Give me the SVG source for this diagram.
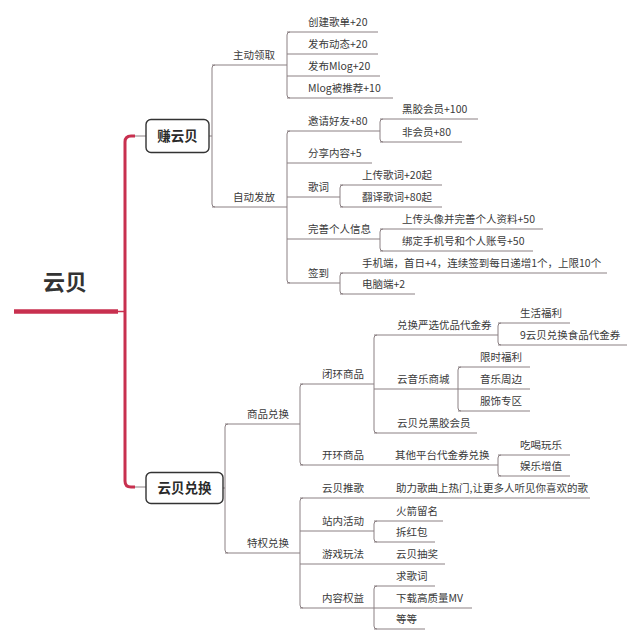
<svg xmlns="http://www.w3.org/2000/svg" width="640" height="642" viewBox="0 0 640 642">
<style>
.t{font-family:"Noto Sans CJK SC","Noto Sans",sans-serif;font-size:10.5px;fill:#3a3a3a}
.b{font-family:"Noto Sans CJK SC","Noto Sans",sans-serif;font-size:13.5px;font-weight:bold;fill:#2a2a2a;text-anchor:middle}
.r{font-family:"Noto Sans CJK SC","Noto Sans",sans-serif;font-size:22px;font-weight:bold;fill:#333}
.box{fill:#fff;stroke:#333;stroke-width:1.4}
.c{fill:none;stroke:#8b8083;stroke-width:1}
.red{fill:none;stroke:#c8304f;stroke-linecap:butt}
</style>
<rect width="640" height="642" fill="#fff"/>
<g id="connectors">
<path class="red" d="M14 311.5H118" stroke-width="4.5"/>
<path class="red" d="M118 311.5H125" stroke-width="1.5"/>
<path class="red" d="M135 136H131Q125 136 125 142V481Q125 487 131 487H135" stroke-width="3"/>
<path class="c" d="M135 136H146M135 487H146"/>
<!-- 赚云贝 -->
<path class="c" d="M209 136H212M215 65Q212 65 212 68V204Q212 207 215 207M212 65H287M212 207H287"/>
<!-- 主动领取 -->
<path class="c" d="M290 32Q287 32 287 35V95Q287 98 290 98M287 32H378M287 54H378M287 76H380M287 98H393"/>
<!-- 自动发放 -->
<path class="c" d="M290 131Q287 131 287 134V280Q287 283 290 283M287 131H380M287 163H372M287 197H340M287 239H380M287 283H340"/>
<path class="c" d="M383 119Q380 119 380 122V139Q380 142 383 142M380 119H478M380 142H462"/>
<path class="c" d="M343 185Q340 185 340 188V204Q340 207 343 207M340 185H442M340 207H442"/>
<path class="c" d="M383 229Q380 229 380 232V248Q380 251 383 251M380 229H543M380 251H533"/>
<path class="c" d="M343 273Q340 273 340 276V291Q340 294 343 294M340 273H607M340 294H415"/>
<!-- 云贝兑换 -->
<path class="c" d="M223 488H225M228 424Q225 424 225 427V550Q225 553 228 553M225 424H300M225 553H300"/>
<path class="c" d="M303 384Q300 384 300 387V462Q300 465 303 465M300 384H374M300 465H498"/>
<path class="c" d="M377 335Q374 335 374 338V430Q374 433 377 433M374 335H498M374 389H458M374 433H477"/>
<path class="c" d="M501 323Q498 323 498 326V342Q498 345 501 345M498 323H570M498 345H627"/>
<path class="c" d="M461 367Q458 367 458 370V408Q458 411 461 411M458 367H530M458 389H530M458 411H530"/>
<path class="c" d="M501 455Q498 455 498 458V473Q498 476 501 476M498 455H570M498 476H570"/>
<path class="c" d="M303 498Q300 498 300 501V605Q300 608 303 608M300 498H590M300 531H374M300 564H445M300 608H472"/>
<path class="c" d="M377 521Q374 521 374 524V539Q374 542 377 542M374 521H443M374 542H435"/>
<path class="c" d="M377 586Q374 586 374 589V626Q374 629 377 629M374 586H435M374 629H425"/>
</g>
<g id="root"><text class="r" x="43" y="290">云贝</text></g>
<g id="n-zhuan"><rect class="box" x="146" y="119.5" width="63" height="33" rx="5"/><text class="b" x="177.5" y="141">赚云贝</text></g>
<g id="n-duihuan"><rect class="box" x="146" y="472.5" width="77" height="31" rx="5"/><text class="b" x="184.5" y="493">云贝兑换</text></g>
<g id="n-zhudong"><text class="t" x="233" y="59">主动领取</text></g>
<g id="n-gedan"><text class="t" x="308" y="26">创建歌单+20</text></g>
<g id="n-dongtai"><text class="t" x="308" y="48">发布动态+20</text></g>
<g id="n-mlog"><text class="t" x="308" y="70">发布Mlog+20</text></g>
<g id="n-mlogtj"><text class="t" x="308" y="92">Mlog被推荐+10</text></g>
<g id="n-zidong"><text class="t" x="233" y="201">自动发放</text></g>
<g id="n-yaoqing"><text class="t" x="308" y="125">邀请好友+80</text></g>
<g id="n-heijiao"><text class="t" x="402" y="113">黑胶会员+100</text></g>
<g id="n-feihuiyuan"><text class="t" x="402" y="136">非会员+80</text></g>
<g id="n-fenxiang"><text class="t" x="308" y="157">分享内容+5</text></g>
<g id="n-geci"><text class="t" x="308" y="191">歌词</text></g>
<g id="n-scgc"><text class="t" x="362" y="179">上传歌词+20起</text></g>
<g id="n-fygc"><text class="t" x="362" y="201">翻译歌词+80起</text></g>
<g id="n-wanshan"><text class="t" x="308" y="233">完善个人信息</text></g>
<g id="n-touxiang"><text class="t" x="402" y="223">上传头像并完善个人资料+50</text></g>
<g id="n-bangding"><text class="t" x="402" y="245">绑定手机号和个人账号+50</text></g>
<g id="n-qiandao"><text class="t" x="308" y="277">签到</text></g>
<g id="n-shouji"><text class="t" x="362" y="267">手机端，首日+4，连续签到每日递增1个，上限10个</text></g>
<g id="n-diannao"><text class="t" x="362" y="288">电脑端+2</text></g>
<g id="n-shangpin"><text class="t" x="247" y="418">商品兑换</text></g>
<g id="n-bihuan"><text class="t" x="322" y="378">闭环商品</text></g>
<g id="n-yanxuan"><text class="t" x="397" y="329">兑换严选优品代金券</text></g>
<g id="n-shenghuo"><text class="t" x="520" y="317">生活福利</text></g>
<g id="n-shipin"><text class="t" x="520" y="339">9云贝兑换食品代金券</text></g>
<g id="n-shangcheng"><text class="t" x="397" y="383">云音乐商城</text></g>
<g id="n-xianshi"><text class="t" x="480" y="361">限时福利</text></g>
<g id="n-zhoubian"><text class="t" x="480" y="383">音乐周边</text></g>
<g id="n-fushi"><text class="t" x="480" y="405">服饰专区</text></g>
<g id="n-heijiaohy"><text class="t" x="397" y="427">云贝兑黑胶会员</text></g>
<g id="n-kaihuan"><text class="t" x="322" y="459">开环商品</text></g>
<g id="n-qita"><text class="t" x="395" y="459">其他平台代金券兑换</text></g>
<g id="n-chihe"><text class="t" x="520" y="449">吃喝玩乐</text></g>
<g id="n-yule"><text class="t" x="520" y="470">娱乐增值</text></g>
<g id="n-tequan"><text class="t" x="247" y="547">特权兑换</text></g>
<g id="n-tuige"><text class="t" x="322" y="492">云贝推歌</text></g>
<g id="n-zhuli"><text class="t" x="396" y="492">助力歌曲上热门,让更多人听见你喜欢的歌</text></g>
<g id="n-zhannei"><text class="t" x="322" y="525">站内活动</text></g>
<g id="n-huojian"><text class="t" x="396" y="515">火箭留名</text></g>
<g id="n-chai"><text class="t" x="396" y="536">拆红包</text></g>
<g id="n-youxi"><text class="t" x="322" y="558">游戏玩法</text></g>
<g id="n-choujiang"><text class="t" x="396" y="558">云贝抽奖</text></g>
<g id="n-neirong"><text class="t" x="322" y="602">内容权益</text></g>
<g id="n-qiugeci"><text class="t" x="396" y="580">求歌词</text></g>
<g id="n-mv"><text class="t" x="396" y="602">下载高质量MV</text></g>
<g id="n-dengdeng"><text class="t" x="396" y="623">等等</text></g>
</svg>
